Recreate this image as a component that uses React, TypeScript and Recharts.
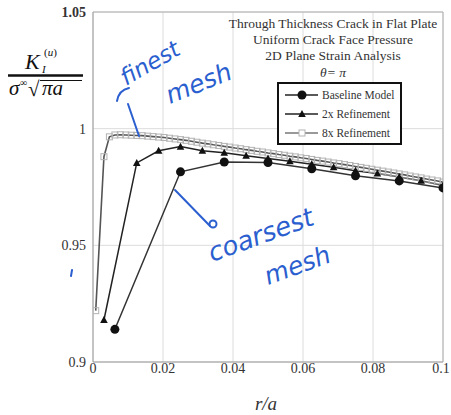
import { CartesianGrid, Line, LineChart, XAxis, YAxis } from "recharts";

// r/a positions and normalized K values
const baselineR = [0.00625, 0.025, 0.0375, 0.05, 0.0625, 0.075, 0.0875, 0.1];
const baselineK = [0.914, 0.9815, 0.9857, 0.9855, 0.9828, 0.9798, 0.9776, 0.9746];

const refine2R = [
  0.003125, 0.0125, 0.01875, 0.025, 0.03125, 0.0375, 0.04375, 0.05, 0.05625, 0.0625,
  0.06875, 0.075, 0.08125, 0.0875, 0.09375, 0.1,
];
const refine2K = [
  0.918, 0.9853, 0.9905, 0.9923, 0.9905, 0.9897, 0.9884, 0.9872, 0.986, 0.9848,
  0.9835, 0.982, 0.9808, 0.9793, 0.9777, 0.9756,
];

const refine8R = [
  0.00078, 0.003125, 0.0046875, 0.00625, 0.0078125, 0.009375, 0.0109375, 0.0125,
  0.0140625, 0.015625, 0.0171875, 0.01875, 0.0203125, 0.021875, 0.0234375, 0.025,
  0.0265625, 0.028125, 0.0296875, 0.03125, 0.0328125, 0.034375, 0.0359375, 0.0375,
  0.0390625, 0.040625, 0.0421875, 0.04375, 0.0453125, 0.046875, 0.0484375, 0.05,
  0.0515625, 0.053125, 0.0546875, 0.05625, 0.0578125, 0.059375, 0.0609375, 0.0625,
  0.0640625, 0.065625, 0.0671875, 0.06875, 0.0703125, 0.071875, 0.0734375, 0.075,
  0.0765625, 0.078125, 0.0796875, 0.08125, 0.0828125, 0.084375, 0.0859375, 0.0875,
  0.0890625, 0.090625, 0.0921875, 0.09375, 0.0953125, 0.096875, 0.0984375, 0.1,
];
const refine8K = [
  0.922, 0.988, 0.9965, 0.9973, 0.9974, 0.9973, 0.9972, 0.9971,
  0.997, 0.9968, 0.9966, 0.9964, 0.9962, 0.9959, 0.9956, 0.9953,
  0.995, 0.9946, 0.9942, 0.9938, 0.9935, 0.9931, 0.9928, 0.9924,
  0.9921, 0.9917, 0.9914, 0.991, 0.9907, 0.9903, 0.99, 0.9896,
  0.9893, 0.9889, 0.9886, 0.9882, 0.9879, 0.9875, 0.9872, 0.9868,
  0.9864, 0.9861, 0.9857, 0.9853, 0.985, 0.9846, 0.9842, 0.9838,
  0.9834, 0.983, 0.9826, 0.9822, 0.9818, 0.9814, 0.981, 0.9806,
  0.9802, 0.9797, 0.9793, 0.9789, 0.9784, 0.978, 0.9776, 0.9771,
];

const xTicks = [0, 0.02, 0.04, 0.06, 0.08, 0.1];
const yTicks = [0.9, 0.95, 1, 1.05];
const xMinorTicks = [
  0, 0.005, 0.01, 0.015, 0.02, 0.025, 0.03, 0.035, 0.04, 0.045, 0.05,
  0.055, 0.06, 0.065, 0.07, 0.075, 0.08, 0.085, 0.09, 0.095, 0.1,
];
const yMinorTicks = [
  0.9, 0.905, 0.91, 0.915, 0.92, 0.925, 0.93, 0.935, 0.94, 0.945, 0.95,
  0.955, 0.96, 0.965, 0.97, 0.975, 0.98, 0.985, 0.99, 0.995, 1,
  1.005, 1.01, 1.015, 1.02, 1.025, 1.03, 1.035, 1.04, 1.045, 1.05,
];

const titleLines = [
  "Through Thickness Crack in Flat Plate",
  "Uniform Crack Face Pressure",
  "2D Plane Strain Analysis",
];
const legendLabels = ["Baseline Model", "2x Refinement", "8x Refinement"];

const toPoints = (rs: number[], ks: number[]) => rs.map((r, i) => ({ r, k: ks[i] }));
const baseline = toPoints(baselineR, baselineK);
const refine2 = toPoints(refine2R, refine2K);
const refine8 = toPoints(refine8R, refine8K);

const SERIF = "'Liberation Serif', 'Times New Roman', serif";
const INK = "#2b5fcf";

const circleDot = (p: any) => (
  <circle key={`c${p.index}`} cx={p.cx} cy={p.cy} r={4.5} fill="#111" />
);
const triDot = (p: any) => (
  <polygon
    key={`t${p.index}`}
    points={`${p.cx},${p.cy - 4} ${p.cx - 3.8},${p.cy + 3} ${p.cx + 3.8},${p.cy + 3}`}
    fill="#111"
  />
);
const squareDot = (p: any) => (
  <rect
    key={`s${p.index}`}
    x={p.cx - 3}
    y={p.cy - 3}
    width={6}
    height={6}
    fill="none"
    stroke="#b3b3b3"
    strokeWidth={1}
  />
);

const yTick = (p: any) => (
  <text
    x={p.x}
    y={p.y}
    dy={5}
    textAnchor="end"
    style={{ fontFamily: SERIF, fontSize: 14 }}
    fill="#333"
    fontWeight={p.payload.value === 1.05 ? "bold" : "normal"}
  >
    {String(p.payload.value)}
  </text>
);

const xTick = (p: any) => (
  <text
    x={p.x}
    y={p.y}
    dy={11}
    textAnchor="middle"
    style={{ fontFamily: SERIF, fontSize: 14 }}
    fill="#333"
  >
    {String(p.payload.value)}
  </text>
);

function Overlay() {
  return (
    <svg
      width={451}
      height={415}
      style={{ position: "absolute", left: 0, top: 0, pointerEvents: "none", fontFamily: SERIF }}
    >
      {/* y label: K_I^(u) / (sigma^inf sqrt(pi a)) */}
      <g fill="#111">
        <text x={25} y={69} fontSize={22} fontStyle="italic">K</text>
        <text x={42} y={73} fontSize={11} fontStyle="italic">I</text>
        <text x={44} y={56} fontSize={11}>(<tspan fontStyle="italic">u</tspan>)</text>
        <line x1={8} y1={75.5} x2={83} y2={75.5} stroke="#111" strokeWidth={2.5} />
        <text x={9} y={95} fontSize={21} fontStyle="italic">σ</text>
        <text x={20} y={86} fontSize={10}>∞</text>
        <text x={28} y={96} fontSize={21}>√</text>
        <line x1={40} y1={80.5} x2={82} y2={80.5} stroke="#111" strokeWidth={1.2} />
        <text x={42} y={95} fontSize={21} fontStyle="italic">πa</text>
      </g>

      {/* title block */}
      <g fontSize={13.5} fill="#333" textAnchor="middle">
        {titleLines.map((t, i) => (
          <text key={t} x={333} y={27.5 + i * 16}>{t}</text>
        ))}
        <text x={333} y={76.5} fontStyle="italic">θ= π</text>
      </g>

      {/* r/a axis label */}
      <text x={266} y={410} textAnchor="middle" fontSize={19} fontStyle="italic" fill="#333">r/a</text>

      {/* legend */}
      <rect x={279} y={84} width={123} height={61} fill="#333" />
      <rect x={278} y={83} width={123} height={61} fill="#fff" stroke="#111" strokeWidth={2} />
      {legendLabels.map((t, i) => {
        const y = 95 + i * 19;
        return (
          <g key={t}>
            <line x1={285} y1={y} x2={318} y2={y} stroke={i === 2 ? "#777" : "#222"} strokeWidth={1.3} />
            {i === 0 && <circle cx={302} cy={y} r={4.5} fill="#111" />}
            {i === 1 && (
              <polygon points={`302,${y - 4} 298.2,${y + 3} 305.8,${y + 3}`} fill="#111" />
            )}
            {i === 2 && (
              <rect x={299} y={y - 3} width={6} height={6} fill="#fff" stroke="#b3b3b3" />
            )}
            <text x={322} y={y + 4} fontSize={11.5} fill="#333">{t}</text>
          </g>
        );
      })}

      {/* handwritten notes */}
      <g fill="none" stroke={INK} strokeWidth={2} strokeLinecap="round">
        <path d="M117,101 Q119,90 129,88" />
        <path d="M128,104 L139,136" />
        <path d="M175,190 L210,226" />
        <circle cx={213} cy={224} r={3.5} />
        <path d="M72,270 L71,276" />
      </g>
      <g fill={INK} style={{ fontFamily: "'DejaVu Sans', sans-serif" }} fontStyle="italic">
        <text x={126} y={86} fontSize={23} transform="rotate(-30 126 86)">finest</text>
        <text x={170} y={104} fontSize={25} transform="rotate(-22 170 104)">mesh</text>
        <text x={212} y={262} fontSize={26} transform="rotate(-20 212 262)">coarsest</text>
        <text x={268} y={285} fontSize={25} transform="rotate(-20 268 285)">mesh</text>
      </g>
    </svg>
  );
}

export default function App() {
  return (
    <div style={{ position: "absolute", left: 0, top: 0, width: 451, height: 415, background: "#fff" }}>
      <LineChart width={451} height={415} margin={{ top: 12, right: 8, bottom: 0, left: 0 }}>
        <CartesianGrid stroke="#dcdcdc" strokeWidth={1} />
        <XAxis
          dataKey="r"
          type="number"
          domain={[0, 0.1]}
          ticks={xTicks}
          allowDataOverflow
          height={53}
          tickSize={0}
          tickMargin={0}
          tickLine={false}
          axisLine={{ stroke: "#9a9a9a" }}
          tick={xTick}
        />
        <XAxis
          xAxisId="minorBottom"
          dataKey="r"
          type="number"
          domain={[0, 0.1]}
          ticks={xMinorTicks}
          allowDataOverflow
          mirror
          tick={false}
          tickSize={4}
          tickLine={{ stroke: "#9a9a9a" }}
          axisLine={false}
        />
        <XAxis
          xAxisId="minorTop"
          orientation="top"
          dataKey="r"
          type="number"
          domain={[0, 0.1]}
          ticks={xMinorTicks}
          allowDataOverflow
          mirror
          tick={false}
          tickSize={4}
          tickLine={{ stroke: "#b0b0b0" }}
          axisLine={{ stroke: "#b0b0b0" }}
        />
        <YAxis
          type="number"
          domain={[0.9, 1.05]}
          ticks={yTicks}
          allowDataOverflow
          width={93}
          tickSize={0}
          tickMargin={7}
          tickLine={false}
          axisLine={{ stroke: "#9a9a9a" }}
          tick={yTick}
        />
        <YAxis
          yAxisId="minorLeft"
          type="number"
          domain={[0.9, 1.05]}
          ticks={yMinorTicks}
          allowDataOverflow
          mirror
          tick={false}
          tickSize={4}
          tickLine={{ stroke: "#9a9a9a" }}
          axisLine={false}
        />
        <YAxis
          yAxisId="minorRight"
          orientation="right"
          type="number"
          domain={[0.9, 1.05]}
          ticks={yMinorTicks}
          allowDataOverflow
          mirror
          tick={false}
          tickSize={4}
          tickLine={{ stroke: "#b0b0b0" }}
          axisLine={{ stroke: "#b0b0b0" }}
        />
        <Line
          data={refine8}
          dataKey="k"
          type="linear"
          stroke="#555"
          strokeWidth={1.6}
          dot={squareDot}
          activeDot={false}
          isAnimationActive={false}
        />
        <Line
          data={refine2}
          dataKey="k"
          type="linear"
          stroke="#222"
          strokeWidth={1.5}
          dot={triDot}
          activeDot={false}
          isAnimationActive={false}
        />
        <Line
          data={baseline}
          dataKey="k"
          type="linear"
          stroke="#333"
          strokeWidth={1.5}
          dot={circleDot}
          activeDot={false}
          isAnimationActive={false}
        />
      </LineChart>
      <Overlay />
    </div>
  );
}
